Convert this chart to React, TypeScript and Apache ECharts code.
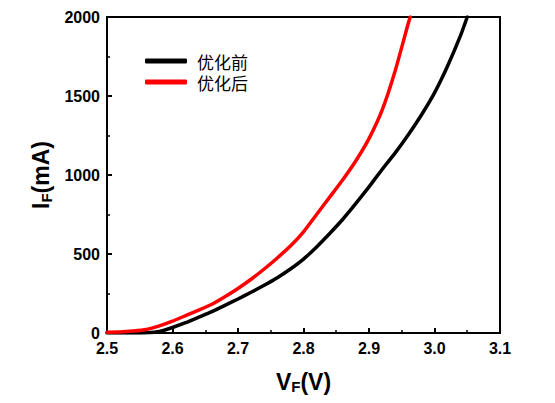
import { useEffect, useRef } from "react";
import * as echarts from "echarts";

// forward voltage (V) samples
const vBefore = [2.5, 2.52, 2.54, 2.56, 2.58, 2.6, 2.62, 2.64, 2.66, 2.68, 2.7, 2.72, 2.74, 2.76, 2.78, 2.8, 2.82, 2.84, 2.86, 2.88, 2.9, 2.92, 2.94, 2.96, 2.98, 3.0, 3.02, 3.04, 3.05];
const iBefore = [0, 0, 0, 2, 10, 35, 65, 100, 135, 175, 215, 258, 302, 350, 405, 468, 545, 630, 720, 820, 925, 1035, 1140, 1255, 1380, 1520, 1690, 1885, 2000];

const vAfter = [2.5, 2.52, 2.54, 2.56, 2.58, 2.6, 2.62, 2.64, 2.66, 2.68, 2.7, 2.72, 2.74, 2.76, 2.78, 2.8, 2.82, 2.84, 2.86, 2.88, 2.9, 2.92, 2.94, 2.96, 2.963];
const iAfter = [5, 6, 12, 22, 45, 75, 110, 145, 182, 230, 282, 340, 405, 475, 550, 640, 750, 860, 970, 1090, 1230, 1410, 1660, 1960, 2000];

const seriesNames = ["优化前", "优化后"];
const seriesColors = ["#000000", "#ff0000"];

const numFont = "'Liberation Sans', Arial, sans-serif";

export default function App() {
  const chartRef = useRef<HTMLDivElement>(null);

  useEffect(() => {
    if (!chartRef.current) return;
    const chart = echarts.init(chartRef.current, null, { renderer: "svg" });

    const axisLine = { show: true, lineStyle: { color: "#000", width: 2 } };
    const nameRich = {
      v: { fontSize: 23, fontWeight: "bold" as const, fontFamily: numFont, color: "#000" },
      s: { fontSize: 15, fontWeight: "bold" as const, fontFamily: numFont, color: "#000", verticalAlign: "bottom" as const, padding: [10, 0, 0, 0] },
    };
    const labelStyle = {
      fontSize: 16,
      fontWeight: "bold" as const,
      color: "#000",
      fontFamily: numFont,
    };

    const option: echarts.EChartsOption = {
      animation: false,
      backgroundColor: "#fff",
      grid: {
        left: 107,
        right: 55,
        top: 17,
        bottom: 70,
        show: true,
        borderColor: "#000",
        borderWidth: 2,
      },
      legend: {
        orient: "vertical",
        left: 140,
        top: 46,
        itemWidth: 42,
        itemHeight: 5,
        itemGap: 1,
        icon: "roundRect",
        textStyle: {
          fontSize: 17,
          color: "#000",
          fontFamily: "'Noto Sans CJK SC', sans-serif",
          lineHeight: 20,
          padding: [0, 0, 0, 5],
        },
        data: seriesNames,
      },
      xAxis: {
        type: "value",
        min: 2.5,
        max: 3.1,
        interval: 0.1,
        name: "{v|V}{s|F}{v|(V)}",
        nameLocation: "middle",
        nameGap: 36,
        nameTextStyle: { rich: nameRich },
        axisLine,
        axisTick: { inside: true, length: 5, lineStyle: { width: 2, color: "#000" } },
        minorTick: { show: true, splitNumber: 2, length: 3, lineStyle: { width: 1.5, color: "#000" } },
        splitLine: { show: false },
        axisLabel: {
          ...labelStyle,
          margin: 7,
          formatter: (v: number) => v.toFixed(1),
        },
      },
      yAxis: {
        type: "value",
        min: 0,
        max: 2000,
        interval: 500,
        name: "{v|I}{s|F}{v|(mA)}",
        nameLocation: "middle",
        nameGap: 52,
        nameTextStyle: { rich: nameRich },
        axisLine,
        axisTick: { inside: true, length: 5, lineStyle: { width: 2, color: "#000" } },
        minorTick: { show: true, splitNumber: 2, length: 3, lineStyle: { width: 1.5, color: "#000" } },
        splitLine: { show: false },
        axisLabel: {
          ...labelStyle,
          margin: 7,
          formatter: (v: number) => String(v),
        },
      },
      series: [
        {
          name: seriesNames[0],
          type: "line",
          data: vBefore.map((v, i) => [v, iBefore[i]]),
          showSymbol: false,
          symbol: "none",
          smooth: 0.15,
          color: seriesColors[0],
          lineStyle: { width: 3.5, color: seriesColors[0], cap: "round", join: "round" },
          z: 3,
        },
        {
          name: seriesNames[1],
          type: "line",
          data: vAfter.map((v, i) => [v, iAfter[i]]),
          showSymbol: false,
          symbol: "none",
          smooth: 0.15,
          color: seriesColors[1],
          lineStyle: { width: 3.5, color: seriesColors[1], cap: "round", join: "round" },
          z: 4,
        },
      ],
    };

    chart.setOption(option);
    return () => {
      chart.dispose();
    };
  }, []);

  return <div ref={chartRef} style={{ width: 555, height: 403, margin: -8 }} />;
}
